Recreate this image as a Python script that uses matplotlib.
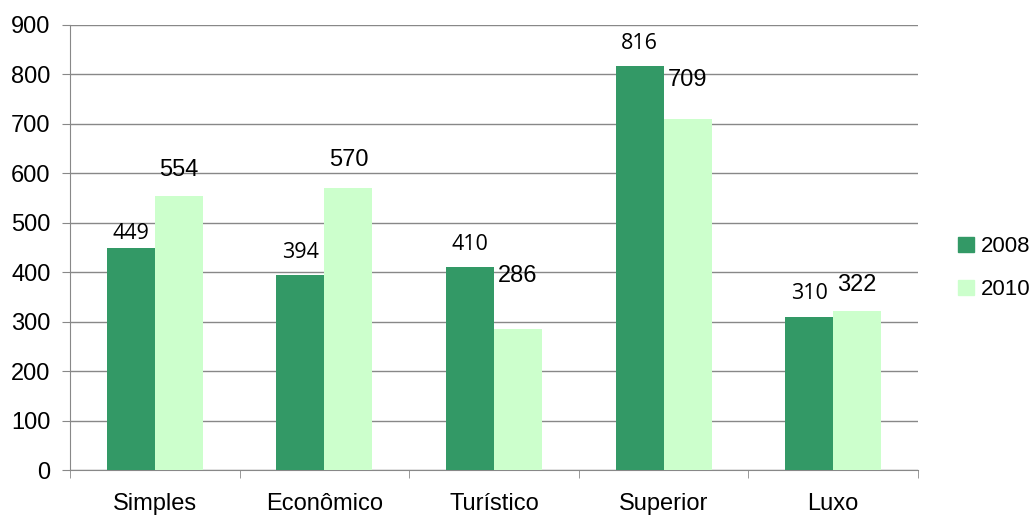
import numpy as np
import matplotlib.pyplot as plt
from matplotlib.patches import Patch

categorias = ["Simples", "Econômico", "Turístico", "Superior", "Luxo"]
anos = ["2008", "2010"]
v2008 = [449, 394, 410, 816, 310]
v2010 = [554, 570, 286, 709, 322]

# label offsets above the bar top (data units), as placed in the original
off2008 = [30, 45, 47, 46, 48]
off2010 = [53, 57, 106, 80, 52]

cor2008 = "#339966"
cor2010 = "#CCFFCC"

plt.rcParams['font.family'] = ['Liberation Sans', 'DejaVu Sans']

fig = plt.figure(figsize=(10.34, 5.16), dpi=100)
ax = fig.add_axes([0.0677, 0.089, 0.8201, 0.8627])

x = np.arange(len(categorias))
w = 0.283
ax.bar(x - w / 2, v2008, w, color=cor2008, zorder=3)
ax.bar(x + w / 2, v2010, w, color=cor2010, zorder=3)

for i in range(len(categorias)):
    ax.text(x[i] - w / 2, v2008[i] + off2008[i], str(v2008[i]), ha="center", va="center",
            fontsize=15.5, family=["Open Sans", "DejaVu Sans"])
    ax.text(x[i] + w / 2, v2010[i] + off2010[i], str(v2010[i]), ha="center", va="center",
            fontsize=17)

ax.set_xlim(-0.5, len(categorias) - 0.5)
ax.set_ylim(0, 900)
ax.set_yticks(np.arange(0, 901, 100))
ax.yaxis.grid(True, color="#888888", linewidth=1, zorder=0)
ax.set_axisbelow(True)

ax.set_xticks(x)
ax.set_xticklabels(categorias, fontsize=17)
ax.set_xticks(np.arange(-0.5, len(categorias), 1), minor=True)
ax.tick_params(axis="x", which="major", length=0, pad=16.5)
ax.tick_params(axis="x", which="minor", length=6, color="#888888", direction="out")
ax.tick_params(axis="y", labelsize=17, length=6, color="#888888", pad=8)

for s in ["top", "right"]:
    ax.spines[s].set_visible(False)
ax.spines["left"].set_color("#888888")
ax.spines["bottom"].set_color("#888888")

handles = [Patch(color=cor2008), Patch(color=cor2010)]
fig.legend(handles, anos, loc="center left", bbox_to_anchor=(0.916, 0.48),
           frameon=False, fontsize=16, handlelength=0.7, handleheight=0.7,
           handletextpad=0.3, labelspacing=1.0, borderpad=0)

fig.savefig("out.png", dpi=100)
